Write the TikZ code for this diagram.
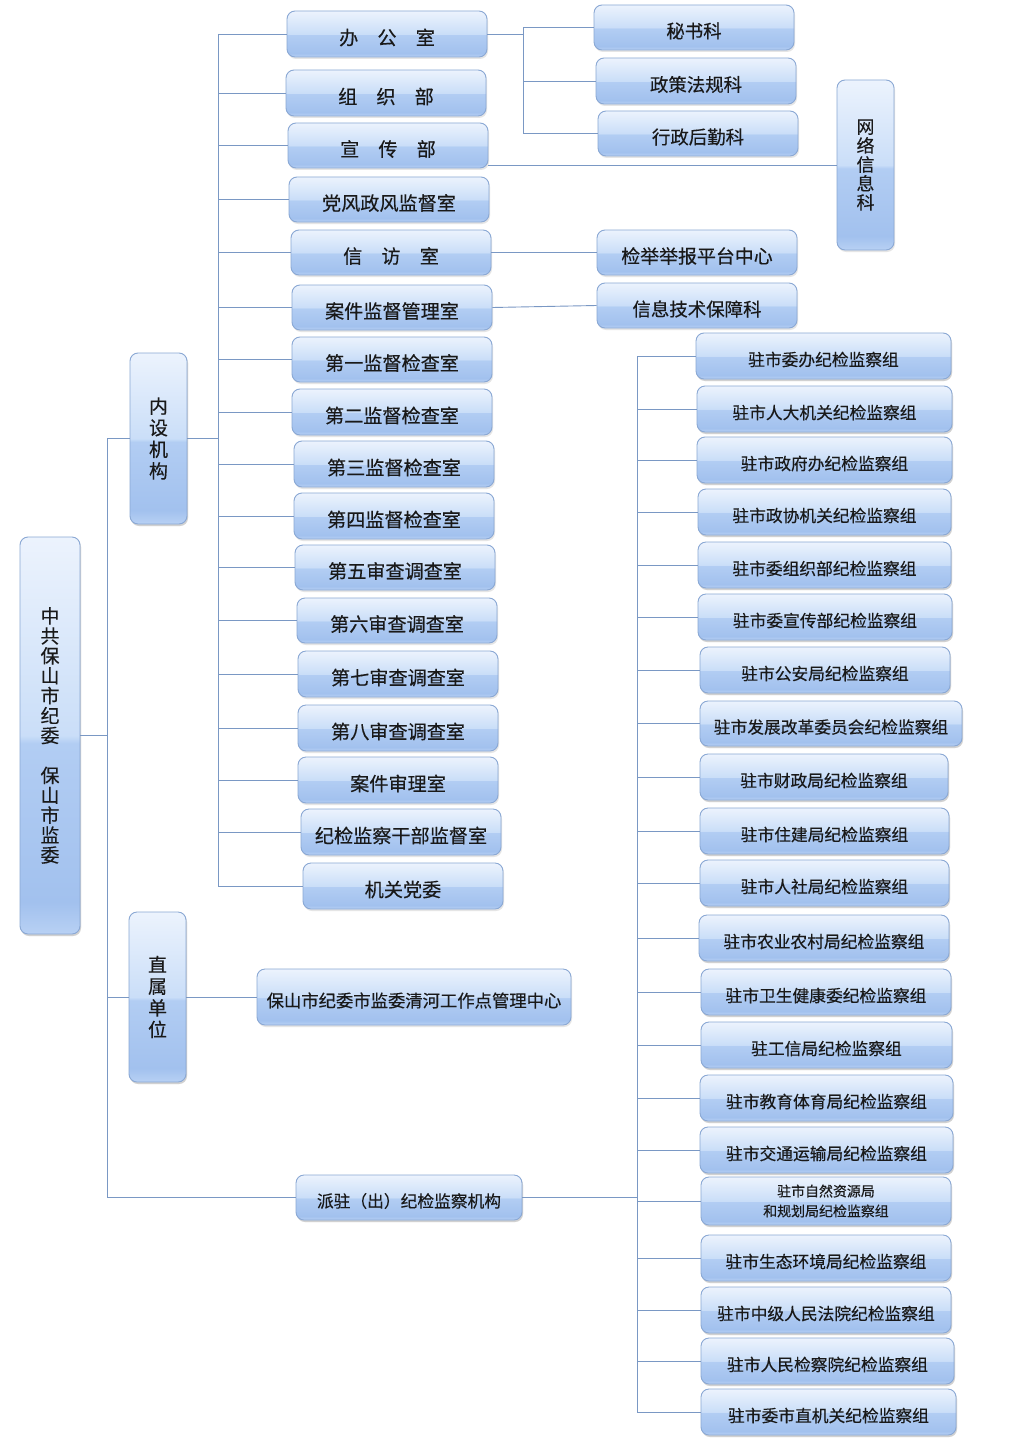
\documentclass[tikz,border=0pt]{standalone}
\usepackage{fontspec}
\setmainfont{Noto Sans CJK SC}[FakeBold=0.3]
\usetikzlibrary{shadows}
\definecolor{lineC}{RGB}{122,152,196}
\definecolor{bordC}{RGB}{138,168,212}
\definecolor{gA}{RGB}{184,209,244}
\definecolor{gB}{RGB}{162,193,238}
\definecolor{gC}{RGB}{178,205,243}
\definecolor{gD}{RGB}{202,222,248}
\definecolor{gE}{RGB}{236,243,253}
\pgfdeclareverticalshading{glossy}{100bp}{color(0bp)=(gA); color(25bp)=(gA); color(29bp)=(gB); color(49bp)=(gC); color(50bp)=(gD); color(75bp)=(gE); color(100bp)=(gE)}
\tikzset{
  box/.style={draw=bordC, line width=0.9bp, rounded corners=8bp, shading=glossy,
    align=center, inner sep=0pt, text=black!90,
    drop shadow={fill=black!40, opacity=0.25, shadow xshift=1bp, shadow yshift=-2bp},
    font=\fontsize{19.2}{22}\selectfont},
  rbox/.style={box, font=\fontsize{16.8}{20}\selectfont},
  vbox/.style={box, font=\fontsize{19}{21.7}\selectfont},
  conn/.style={draw=lineC, line width=0.9bp},
}
% single-line box: text set a little below the centre, as in the reference
\newcommand{\Bx}[7][]{\node[box,#1,minimum width={(#4-#3)*1bp},minimum height={(#6-#5)*1bp}] (#2) at ({(#3+#4)/2},{(#5+#6)/2}) {\raisebox{-3.5bp}[\height][\depth]{#7}};}
% multi-line box
\newcommand{\Bm}[7][]{\node[box,#1,minimum width={(#4-#3)*1bp},minimum height={(#6-#5)*1bp}] (#2) at ({(#3+#4)/2},{(#5+#6)/2}) {#7};}
\begin{document}
\begin{tikzpicture}[x=1bp,y=-1bp]
\useasboundingbox[fill=white] (0,0) rectangle (1024,1447);
% trunk coordinates
\coordinate (T0a) at (107,438.5);
\coordinate (T0b) at (107,1197.5);
\coordinate (T2a) at (218,34);
\coordinate (T2b) at (218,886);
\coordinate (T3a) at (523,27.5);
\coordinate (T3b) at (523,133.5);
\coordinate (T4a) at (637,356);
\coordinate (T4b) at (637,1412);
\coordinate (wl) at (0,165);
% trunks
\draw[conn] (T0a) -- (T0b);
\draw[conn] (T2a) -- (T2b);
\draw[conn] (T3a) -- (T3b);
\draw[conn] (T4a) -- (T4b);
% main and level-1 boxes
\Bm[vbox,font=\fontsize{19}{20}\selectfont]{main}{20}{80}{537}{934}{中\\共\\保\\山\\市\\纪\\委\\\mbox{}\\保\\山\\市\\监\\委}
\Bm[vbox]{nei}{130}{187}{353}{524}{内\\设\\机\\构}
\Bm[vbox]{zs}{129}{186}{912}{1082}{直\\属\\单\\位}
\Bx[rbox]{pz}{296}{522}{1175}{1220}{派驻（出）纪检监察机构}
\Bx[font=\fontsize{17.4}{22}\selectfont]{qh}{257}{571}{969}{1025}{保山市纪委市监委清河工作点管理中心}
% left column
\Bx{bgs}{287}{487}{11}{57}{办\hspace{1em}公\hspace{1em}室}
\Bx{zzb}{286}{486}{70}{116}{组\hspace{1em}织\hspace{1em}部}
\Bx{xcb}{288}{488}{123}{168}{宣\hspace{1em}传\hspace{1em}部}
\Bx{dfzf}{289}{489}{177}{222}{党风政风监督室}
\Bx{xfs}{291}{491}{230}{275}{信\hspace{1em}访\hspace{1em}室}
\Bx{ajjd}{292}{492}{285}{330}{案件监督管理室}
\Bx{d1}{292}{492}{337}{382}{第一监督检查室}
\Bx{d2}{292}{492}{389}{435}{第二监督检查室}
\Bx{d3}{294}{494}{441}{487}{第三监督检查室}
\Bx{d4}{294}{494}{493}{539}{第四监督检查室}
\Bx{d5}{295}{495}{545}{590}{第五审查调查室}
\Bx{d6}{297}{497}{598}{643}{第六审查调查室}
\Bx{d7}{298}{498}{651}{697}{第七审查调查室}
\Bx{d8}{298}{498}{705}{751}{第八审查调查室}
\Bx{ajsl}{298}{498}{757}{803}{案件审理室}
\Bx{gbjd}{301}{501}{809}{855}{纪检监察干部监督室}
\Bx{jgdw}{303}{503}{863}{909}{机关党委}
% top right
\Bx[font=\fontsize{18.5}{22}\selectfont]{msk}{594}{794}{5}{50}{秘书科}
\Bx[font=\fontsize{18.5}{22}\selectfont]{zcfg}{596}{796}{58}{104}{政策法规科}
\Bx[font=\fontsize{18.5}{22}\selectfont]{xzhq}{598}{798}{111}{156}{行政后勤科}
\Bm[font=\fontsize{18}{19}\selectfont]{wlxx}{837}{894}{80}{250}{网\\络\\信\\息\\科}
\Bx[font=\fontsize{19}{22}\selectfont]{jjjb}{597}{797}{230}{275}{检举举报平台中心}
\Bx[font=\fontsize{18.5}{22}\selectfont]{xxjs}{597}{797}{283}{328}{信息技术保障科}
% right column
\Bx[rbox]{r1}{696}{951}{333}{379}{驻市委办纪检监察组}
\Bx[rbox]{r2}{697}{952}{386}{432}{驻市人大机关纪检监察组}
\Bx[rbox]{r3}{697}{952}{437}{483}{驻市政府办纪检监察组}
\Bx[rbox]{r4}{698}{951}{489}{535}{驻市政协机关纪检监察组}
\Bx[rbox]{r5}{698}{951}{542}{588}{驻市委组织部纪检监察组}
\Bx[rbox]{r6}{698}{952}{594}{640}{驻市委宣传部纪检监察组}
\Bx[rbox]{r7}{700}{950}{647}{693}{驻市公安局纪检监察组}
\Bx[rbox]{r8}{700}{962}{701}{746}{驻市发展改革委员会纪检监察组}
\Bx[rbox]{r9}{700}{948}{754}{800}{驻市财政局纪检监察组}
\Bx[rbox]{r10}{700}{949}{808}{854}{驻市住建局纪检监察组}
\Bx[rbox]{r11}{700}{949}{860}{906}{驻市人社局纪检监察组}
\Bx[rbox]{r12}{699}{949}{915}{961}{驻市农业农村局纪检监察组}
\Bx[rbox]{r13}{701}{951}{969}{1015}{驻市卫生健康委纪检监察组}
\Bx[rbox]{r14}{701}{952}{1022}{1068}{驻工信局纪检监察组}
\Bx[rbox]{r15}{700}{953}{1075}{1121}{驻市教育体育局纪检监察组}
\Bx[rbox]{r16}{700}{953}{1127}{1173}{驻市交通运输局纪检监察组}
\Bm[rbox,font=\fontsize{14}{20}\selectfont]{r17}{701}{951}{1177}{1225}{驻市自然资源局\\和规划局纪检监察组}
\Bx[rbox]{r18}{701}{951}{1235}{1281}{驻市生态环境局纪检监察组}
\Bx[rbox]{r19}{701}{951}{1287}{1333}{驻市中级人民法院纪检监察组}
\Bx[rbox]{r20}{701}{954}{1338}{1384}{驻市人民检察院纪检监察组}
\Bx[rbox]{r21}{701}{956}{1389}{1435}{驻市委市直机关纪检监察组}
% level-0 / level-1 connectors
\draw[conn] (main.east) -- (main.east -| T0a);
\foreach \n in {nei,zs,pz} \draw[conn] (\n.west) -- (\n.west -| T0a);
\draw[conn] (nei.east) -- (nei.east -| T2a);
\draw[conn] (zs.east) -- (qh.west);
\draw[conn] (pz.east) -- (pz.east -| T4a);
% left column connectors
\foreach \n in {bgs,zzb,xcb,dfzf,xfs,ajjd,d1,d2,d3,d4,d5,d6,d7,d8,ajsl,gbjd,jgdw}
  \draw[conn] (\n.west) -- (\n.west -| T2a);
% office sub-units
\draw[conn] (bgs.east) -- (bgs.east -| T3a);
\foreach \n in {msk,zcfg,xzhq} \draw[conn] (\n.west) -- (\n.west -| T3a);
\draw[conn] (xcb.east |- wl) -- (wlxx.west |- wl);
\draw[conn] (xfs.east) -- (jjjb.west);
\draw[conn] (ajjd.east) -- (xxjs.west);
% right column connectors
\foreach \n in {r1,r2,r3,r4,r5,r6,r7,r8,r9,r10,r11,r12,r13,r14,r15,r16,r17,r18,r19,r20,r21}
  \draw[conn] (\n.west) -- (\n.west -| T4a);
\end{tikzpicture}
\end{document}
